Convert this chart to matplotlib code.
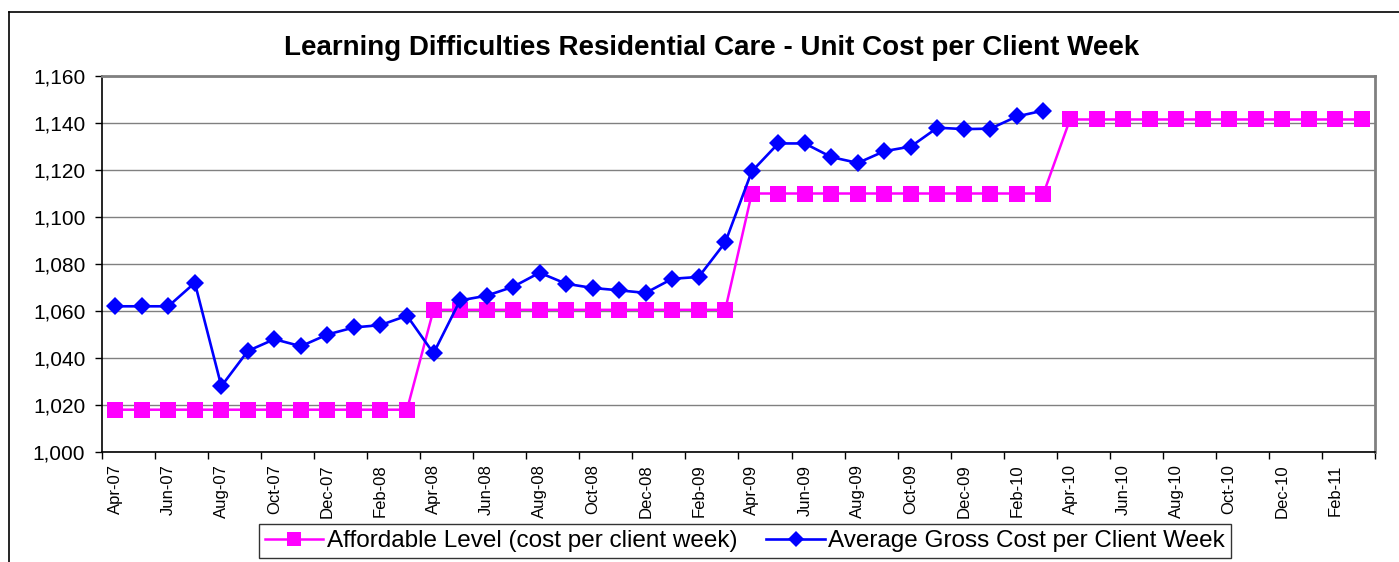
import matplotlib.pyplot as plt
from matplotlib.lines import Line2D
from matplotlib.ticker import FuncFormatter

plt.rcParams['font.family'] = ['Liberation Sans', 'DejaVu Sans']

months = ['Apr', 'May', 'Jun', 'Jul', 'Aug', 'Sep', 'Oct', 'Nov', 'Dec', 'Jan', 'Feb', 'Mar']
years = ['07', '08', '09', '10']
labels = []
for i, yr in enumerate(years):
    for m in months:
        y = yr if m not in ('Jan', 'Feb', 'Mar') else '%02d' % (int(yr) + 1)
        labels.append(f'{m}-{y}')

affordable = [1018] * 12 + [1060.5] * 12 + [1110] * 12 + [1141.5] * 12

gross = [1062, 1062, 1062, 1072, 1028, 1043, 1048, 1045, 1050, 1053, 1054, 1058,
         1042, 1064.5, 1066.5, 1070.3, 1076.3, 1071.6, 1069.8, 1068.8, 1067.7, 1073.7, 1074.5, 1089.2,
         1119.4, 1131.3, 1131.3, 1125.5, 1123, 1128, 1130, 1138, 1137.4, 1137.6, 1142.8, 1145.3]

fig = plt.figure(figsize=(13.99, 5.62), dpi=100)
ax = fig.add_axes([102 / 1399, 110 / 562, 1273 / 1399, 376 / 562])

# outer chart frame (top and left edges visible)
fig.add_artist(Line2D([9 / 1399, 9 / 1399], [0, 1 - 12 / 562], transform=fig.transFigure,
                      color='black', lw=1.2))
fig.add_artist(Line2D([9 / 1399, 1], [1 - 12 / 562, 1 - 12 / 562], transform=fig.transFigure,
                      color='black', lw=1.2))

x = list(range(len(labels)))
ax.plot(x, affordable, color='#FF00FF', lw=1.8, marker='s', markersize=11.5, mew=0,
        label='Affordable Level (cost per client week)', zorder=3)
ax.plot(x[:len(gross)], gross, color='#0000FF', lw=1.9, marker='D', markersize=9.5, mew=0,
        label='Average Gross Cost per Client Week', zorder=4)

ax.set_xlim(-0.5, len(labels) - 0.5)
ax.set_ylim(1000, 1160)
ax.set_yticks(range(1000, 1161, 20))
ax.yaxis.set_major_formatter(FuncFormatter(lambda v, p: f'{int(v):,}'))
ax.grid(axis='y', color='#808080', lw=1)
ax.set_axisbelow(True)

ax.set_xticks([i - 0.5 for i in range(0, len(labels) + 1, 2)])
ax.set_xticklabels([])
ax.set_xticks(x[::2], minor=True)
ax.set_xticklabels(labels[::2], minor=True, rotation=90, fontsize=12)
ax.tick_params(axis='x', which='minor', length=0, pad=9)
ax.tick_params(axis='x', which='major', length=5, width=1, direction='out')
ax.tick_params(axis='y', length=5, width=1, labelsize=15, pad=7)

for s in ['top', 'right']:
    ax.spines[s].set_color('#808080')
    ax.spines[s].set_linewidth(2)
for s in ['left', 'bottom']:
    ax.spines[s].set_color('black')
    ax.spines[s].set_linewidth(1.2)

fig.text(0.509, 1 - 48 / 562, 'Learning Difficulties Residential Care - Unit Cost per Client Week',
         ha='center', va='center', fontsize=20, fontweight='bold')

leg = fig.legend(loc='center', bbox_to_anchor=(745 / 1399, 1 - 541 / 562), ncol=2,
                 fontsize=17.5, frameon=True, fancybox=False, edgecolor='black',
                 handlelength=2.4, handletextpad=0.15, columnspacing=1.2, borderpad=0.25,
                 markerscale=0.9, borderaxespad=0)
leg.get_frame().set_linewidth(1)

fig.savefig('out.png', dpi=100)
